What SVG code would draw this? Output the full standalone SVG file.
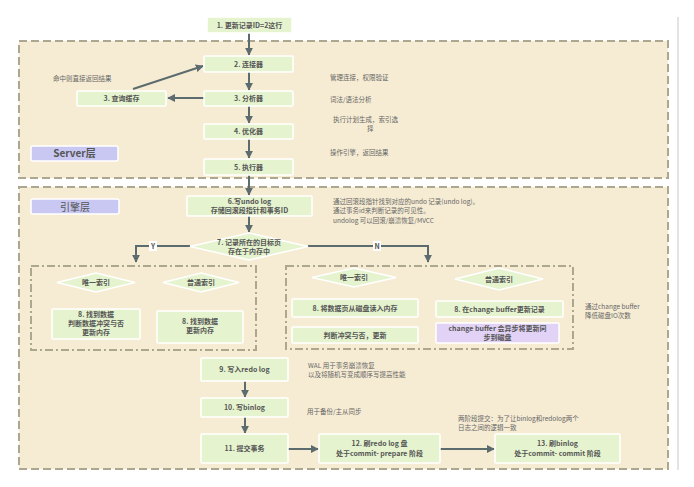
<svg xmlns="http://www.w3.org/2000/svg" width="694" height="487" viewBox="0 0 694 487">
<defs>
<marker id="ah" viewBox="0 0 10 10" refX="9" refY="5" markerWidth="4" markerHeight="4" orient="auto" markerUnits="strokeWidth">
<path d="M0,0 L10,5 L0,10 z" fill="#5c6b6e"/>
</marker>
</defs>
<style>
text{font-family:"Noto Sans CJK SC","Liberation Sans",sans-serif;}
.layer{fill:#f6ecd3;stroke:#aea78f;stroke-width:2;stroke-dasharray:8 4;}
.inner{fill:none;stroke:#aea78f;stroke-width:2;stroke-dasharray:8 3 2 3;}
.box{fill:#e5f4cf;stroke:#ffffff;stroke-width:1.5;}
.pbox{fill:#e2d3f6;stroke:#ffffff;stroke-width:1.5;}
.lab{fill:#c9c8f2;stroke:#ffffff;stroke-width:1.5;}
.dia{fill:#e5f4cf;stroke:#ffffff;stroke-width:1.5;}
.t{font-size:7px;font-weight:bold;fill:#555555;text-anchor:middle;}
.n{font-size:6.5px;fill:#666666;}
.yn{font-size:7px;font-weight:bold;fill:#555555;text-anchor:middle;}
.c{fill:none;stroke:#5c6b6e;stroke-width:2;marker-end:url(#ah);}
</style>
<rect width="694" height="487" fill="#ffffff"/>
<line x1="678" y1="17" x2="678" y2="470" stroke="#c8c8c8" stroke-width="1"/>

<rect class="layer" x="19" y="41" width="649" height="137"/>
<rect class="layer" x="19" y="187" width="649" height="282"/>
<rect class="inner" x="31" y="266" width="225" height="84"/>
<rect class="inner" x="286" y="266" width="287" height="83"/>

<g id="server-label"><rect class="lab" x="31" y="146" width="87" height="15" rx="2"/><text x="74.5" y="157" style="font-size:10px;font-weight:bold;fill:#555;text-anchor:middle">Server层</text></g>
<g id="engine-label"><rect class="lab" x="31" y="199" width="88" height="15" rx="2"/><text x="75" y="210.5" style="font-size:10px;fill:#555;text-anchor:middle">引擎层</text></g>

<g id="connectors">
<path class="c" d="M249,33 V55"/>
<path class="c" d="M249,72 V90"/>
<path class="c" d="M249,106 V123"/>
<path class="c" d="M249,139 V158"/>
<path class="c" d="M249,175 V195"/>
<path class="c" d="M249,216 V232"/>
<path class="c" d="M204,98 H168"/>
<path class="c" d="M133,89 L203,66"/>
<path class="c" d="M190,246 H136 V262"/>
<path class="c" d="M308,246 H428 V262"/>
<path class="c" d="M245,381 V397"/>
<path class="c" d="M245,417 V433"/>
<path class="c" d="M288,449 H318"/>
<path class="c" d="M440,449 H494"/>
<rect x="149" y="241" width="8" height="10" fill="#ffffff"/><text class="yn" x="153" y="249">Y</text>
<rect x="373" y="241" width="8" height="10" fill="#ffffff"/><text class="yn" x="377" y="249">N</text>
</g>

<g id="n1"><rect class="box" x="207" y="17" width="85" height="16" rx="1"/><text class="t" x="249.5" y="27.5">1. 更新记录ID=2这行</text></g>
<g id="n2"><rect class="box" x="204" y="56" width="89" height="16" rx="1"/><text class="t" x="248.5" y="66.5">2. 连接器</text></g>
<g id="n3a"><rect class="box" x="204" y="91" width="89" height="15" rx="1"/><text class="t" x="248.5" y="101">3. 分析器</text></g>
<g id="n3b"><rect class="box" x="77" y="91" width="89" height="15" rx="1"/><text class="t" x="121.5" y="101">3. 查询缓存</text></g>
<g id="n4"><rect class="box" x="204" y="124" width="89" height="15" rx="1"/><text class="t" x="248.5" y="134">4. 优化器</text></g>
<g id="n5"><rect class="box" x="204" y="159" width="89" height="16" rx="1"/><text class="t" x="248.5" y="169.5">5. 执行器</text></g>

<g id="notes-server">
<text class="n" x="53" y="81">命中则直接返回结果</text>
<text class="n" x="330" y="80">管理连接，权限验证</text>
<text class="n" x="330" y="102">词法/语法分析</text>
<text class="n" x="333" y="122">执行计划生成，索引选</text>
<text class="n" x="367" y="131">择</text>
<text class="n" x="330" y="155">操作引擎，返回结果</text>
</g>

<g id="n6"><rect class="box" x="187" y="196" width="125" height="20" rx="1"/><text class="t" x="249.5" y="204">6.写undo log</text><text class="t" x="249.5" y="213">存储回滚段指针和事务ID</text></g>
<g id="n7"><polygon class="dia" points="249,233 308,246.5 249,260 190,246.5"/><text class="t" x="249" y="244.5">7. 记录所在的目标页</text><text class="t" x="249" y="253.5">存在于内存中</text></g>

<g id="notes-undo">
<text class="n" x="333" y="204">通过回滚段指针找到对应的undo 记录(undo log)。</text>
<text class="n" x="333" y="213">通过事务id来判断记录的可见性。</text>
<text class="n" x="333" y="223">undolog 可以回滚/崩溃恢复/MVCC</text>
</g>

<g id="d-uniq-l"><polygon class="dia" points="96,273 135,282.5 96,292 57,282.5"/><text class="t" x="96" y="285">唯一索引</text></g>
<g id="d-norm-l"><polygon class="dia" points="201,273 239,282.5 201,292 163,282.5"/><text class="t" x="201" y="285">普通索引</text></g>
<g id="n8a"><rect class="box" x="52" y="309" width="88" height="30" rx="1"/><text class="t" x="96" y="317">8. 找到数据</text><text class="t" x="96" y="326">判断数据冲突与否</text><text class="t" x="96" y="335">更新内存</text></g>
<g id="n8b"><rect class="box" x="157" y="311" width="86" height="32" rx="1"/><text class="t" x="200" y="324">8. 找到数据</text><text class="t" x="200" y="333">更新内存</text></g>

<g id="d-uniq-r"><polygon class="dia" points="354,268 396,277.5 354,287 312,277.5"/><text class="t" x="354" y="280">唯一索引</text></g>
<g id="d-norm-r"><polygon class="dia" points="499,268 543,279 499,290 455,279"/><text class="t" x="499" y="281.5">普通索引</text></g>
<g id="n8c"><rect class="box" x="292" y="299" width="126" height="18" rx="1"/><text class="t" x="355" y="310.5">8. 将数据页从磁盘读入内存</text></g>
<g id="n8d"><rect class="box" x="292" y="327" width="126" height="16" rx="1"/><text class="t" x="355" y="337.5">判断冲突与否，更新</text></g>
<g id="n8e"><rect class="box" x="436" y="301" width="127" height="16" rx="1"/><text class="t" x="499.5" y="311.5">8. 在change buffer更新记录</text></g>
<g id="n8f"><rect class="pbox" x="436" y="323" width="123" height="20" rx="1"/><text class="t" x="497.5" y="331">change buffer 会异步将更新同</text><text class="t" x="497.5" y="340">步到磁盘</text></g>
<g id="notes-cb"><text class="n" x="585" y="309">通过change buffer</text><text class="n" x="585" y="318">降低磁盘IO次数</text></g>

<g id="n9"><rect class="box" x="201" y="358" width="87" height="23" rx="1"/><text class="t" x="244.5" y="372">9. 写入redo log</text></g>
<g id="n10"><rect class="box" x="201" y="398" width="87" height="19" rx="1"/><text class="t" x="244.5" y="410">10. 写binlog</text></g>
<g id="n11"><rect class="box" x="201" y="434" width="87" height="29" rx="1"/><text class="t" x="244.5" y="451">11. 提交事务</text></g>
<g id="n12"><rect class="box" x="319" y="434" width="121" height="29" rx="1"/><text class="t" x="379.5" y="446">12. 刷redo log 盘</text><text class="t" x="379.5" y="456">处于commit- prepare 阶段</text></g>
<g id="n13"><rect class="box" x="495" y="434" width="125" height="29" rx="1"/><text class="t" x="557.5" y="446">13. 刷binlog</text><text class="t" x="557.5" y="456">处于commit- commit 阶段</text></g>

<g id="notes-bottom">
<text class="n" x="308" y="368">WAL 用于事务崩溃恢复</text>
<text class="n" x="308" y="377">以及将随机写变成顺序写提高性能</text>
<text class="n" x="307" y="414">用于备份/主从同步</text>
<text class="n" x="458" y="421">两阶段提交：为了让binlog和redolog两个</text>
<text class="n" x="458" y="430">日志之间的逻辑一致</text>
</g>
</svg>
